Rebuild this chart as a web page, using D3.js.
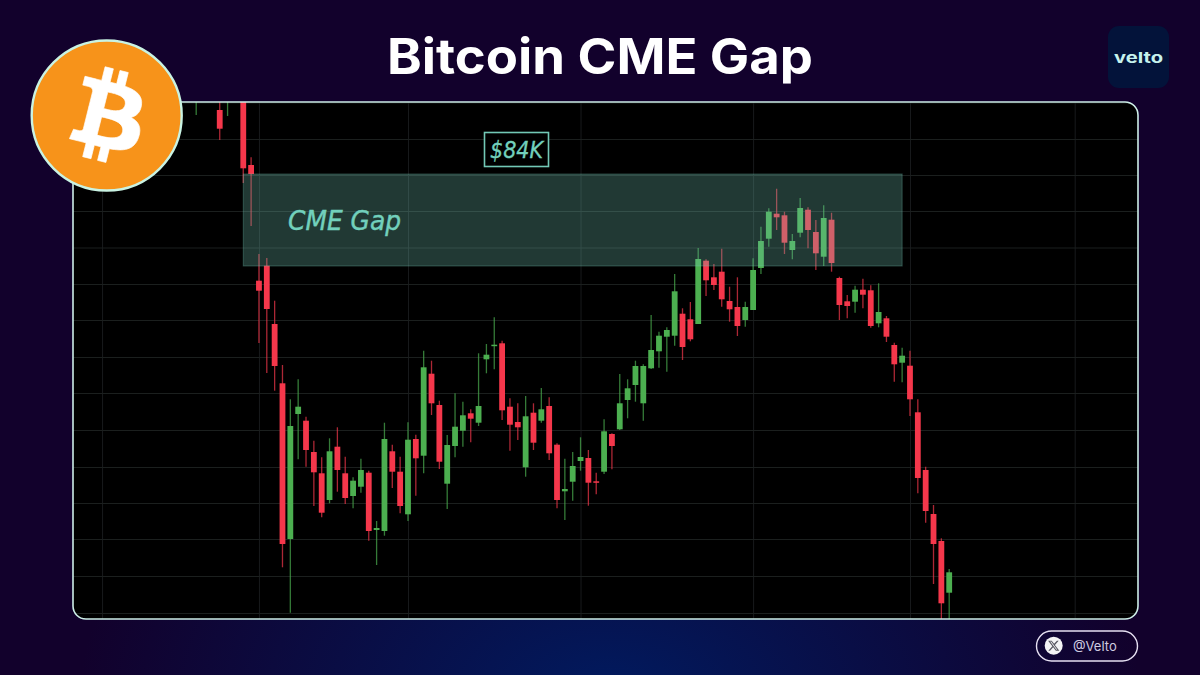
<!DOCTYPE html>
<html>
<head>
<meta charset="utf-8">
<script src="https://cdn.jsdelivr.net/npm/d3@7"></script>
<style>
  html, body { margin: 0; padding: 0; background: #12012c; }
  svg { display: block; }
</style>
</head>
<body>
<div id="chart-area"></div>
<script>
// bar numbers of the candles that show in the picture (1, 2 and 5 are above the frame)
const barIndex = [0, 3, 4, ...d3.range(6, 97)];

const open = [
    84900, 84650, 84900,
    85500, 84100, 82943, 83093,
    82510, 81917, 80360, 81610, 81543, 81230, 81017, 80750, 81283, 81017,
    80790, 80883, 81023, 80450, 80440, 81237, 81033, 80607, 81360, 81193,
    82013, 81700, 80913, 81290, 81443, 81617, 81523, 82157, 82295, 82317,
    81683, 81530, 81077, 81623, 81543, 81690, 81303, 80837, 80933, 81140,
    81170, 80937, 81033, 81410, 81457, 81750, 81900, 81717, 82067, 82237,
    82383, 82393, 82613, 82557, 82510, 83143, 82977, 83033, 82740, 82680,
    82550, 82650, 83070, 83363, 83613, 83597, 83250, 83423, 83653, 83430,
    83183, 83553, 82970, 82737, 82733, 82853, 82847, 82517, 82567, 82300,
    82123, 82093, 81627, 81050, 80610, 80340, 79823
];
const close = [
    85100, 84463, 85100,
    84067, 84010, 82843, 82660,
    82090, 80310, 81490, 81683, 81250, 81027, 80623, 81237, 81050, 80770,
    80943, 81050, 80440, 80470, 81360, 81033, 80690, 81353, 81167, 82077,
    81717, 81133, 81300, 81483, 81597, 81563, 81690, 82203, 82303, 81647,
    81503, 81477, 81587, 81323, 81657, 81217, 80750, 80860, 81090, 81180,
    80923, 80927, 81437, 81290, 81717, 81867, 82090, 82090, 82250, 82393,
    82450, 82837, 82280, 82357, 83160, 82947, 82900, 82757, 82657, 82490,
    82680, 83050, 83340, 83633, 83577, 83323, 83340, 83670, 83450, 83217,
    83570, 83120, 82700, 82690, 82853, 82803, 82490, 82630, 82383, 82107,
    82193, 81757, 80970, 80640, 80310, 79717, 80027
];
const high = [
    85300, 84770, 85200,
    85600, 84177, 83210, 83170,
    82743, 82100, 81757, 81957, 81583, 81343, 81177, 81367, 81477, 81183,
    80977, 81163, 81043, 80540, 81523, 81303, 81183, 81527, 81403, 82243,
    82143, 81743, 81400, 81817, 81733, 81657, 82217, 82310, 82577, 82343,
    81767, 81717, 81790, 81717, 81870, 81777, 81317, 81163, 81230, 81377,
    81250, 81023, 81557, 81417, 82010, 81957, 82143, 82107, 82600, 82433,
    82477, 83010, 82667, 82730, 83270, 83157, 83110, 83263, 82883, 82977,
    82733, 83167, 83483, 83667, 83863, 83633, 83410, 83770, 83677, 83550,
    83697, 83623, 82983, 82800, 82893, 82963, 82897, 82917, 82590, 82323,
    82273, 82243, 81757, 81083, 80700, 80367, 80060
];
const low = [
    84600, 84350, 84590,
    83920, 83490, 82320, 82020,
    81843, 80077, 79623, 81157, 81083, 80690, 80577, 80717, 80833, 80710,
    80667, 80823, 80343, 80100, 80393, 80870, 80617, 80540, 80793, 81017,
    81600, 81060, 80660, 81177, 81283, 81327, 81490, 82017, 82057, 81550,
    81243, 81350, 80983, 81250, 81523, 81150, 80667, 80550, 80743, 81043,
    80693, 80807, 81010, 81057, 81450, 81567, 81733, 81543, 82060, 82073,
    82033, 82293, 82150, 82337, 82510, 82790, 82850, 82683, 82533, 82390,
    82483, 82650, 83010, 83283, 83450, 83210, 83157, 83377, 83267, 83050,
    83090, 83033, 82550, 82567, 82623, 82667, 82473, 82477, 82330, 81933,
    81927, 81590, 80817, 80523, 79910, 79350, 79450
];

// faint grid of the trading platform: no labels on it in the picture
const gridPrices = [84725, 84360, 84000, 83640, 83275, 82910, 82550, 82180, 81820, 81450, 81080, 80720, 80360, 79990, 79620];
const gridBars = [-12, 8, 27, 49, 71, 91, 112];

// CME gap zone, in price and bars
const gapTop = 84010;
const gapBottom = 83090;
const gapFrom = 6;
const gapTo = 90;

const candles = barIndex.map((b, i) => ({bar: b, open: open[i], high: high[i], low: low[i], close: close[i]}));

const width = 1200;
const height = 675;
const panel = {left: 73, top: 102, right: 1138, bottom: 619};

const svg = d3.select("#chart-area")
    .append("svg")
    .attr("width", width)
    .attr("height", height);

const defs = svg.append("defs");

const glow = defs.append("radialGradient")
    .attr("id", "glow")
    .attr("gradientUnits", "userSpaceOnUse")
    .attr("cx", 0).attr("cy", 0).attr("r", 1)
    .attr("gradientTransform", "translate(610 690) scale(530 300)");
glow.append("stop").attr("offset", "0%").attr("stop-color", "#011a5e");
glow.append("stop").attr("offset", "100%").attr("stop-color", "#12012c");

defs.append("clipPath")
    .attr("id", "panel-clip")
    .append("rect")
    .attr("x", panel.left).attr("y", panel.top)
    .attr("width", panel.right - panel.left)
    .attr("height", panel.bottom - panel.top)
    .attr("rx", 13);

svg.append("rect")
    .attr("width", width)
    .attr("height", height)
    .attr("fill", "#12012c");

svg.append("rect")
    .attr("width", width)
    .attr("height", height)
    .attr("fill", "url(#glow)");

svg.append("text")
    .attr("x", 387)
    .attr("y", 74)
    .attr("textLength", 426)
    .attr("lengthAdjust", "spacingAndGlyphs")
    .attr("font-family", "Inter")
    .attr("font-weight", 700)
    .attr("font-size", "49px")
    .attr("fill", "white")
    .text("Bitcoin CME Gap");

// chart panel
svg.append("rect")
    .attr("x", panel.left).attr("y", panel.top)
    .attr("width", panel.right - panel.left)
    .attr("height", panel.bottom - panel.top)
    .attr("rx", 13)
    .attr("fill", "black");

const g = svg.append("g").attr("clip-path", "url(#panel-clip)");

const x = d3.scaleLinear()
    .domain([0, 96])
    .range([196.2, 949.2]);

const y = d3.scaleLinear()
    .domain([84000, 79000])
    .range([175, 675]);

const gridX = d3.axisBottom(x)
    .tickValues(gridBars)
    .tickSize(panel.bottom - panel.top)
    .tickFormat("");

const gridY = d3.axisLeft(y)
    .tickValues(gridPrices)
    .tickSize(-(panel.right - panel.left))
    .tickFormat("");

g.append("g")
    .attr("class", "grid x")
    .attr("transform", "translate(0," + panel.top + ")")
    .call(gridX);

g.append("g")
    .attr("class", "grid y")
    .attr("transform", "translate(" + panel.left + ",0)")
    .call(gridY);

g.selectAll(".grid .domain").remove();
g.selectAll(".grid.x line").attr("stroke", "#181a1c");
g.selectAll(".grid.y line").attr("stroke", "#1b1f1e");

const barWidth = 5.8;
const colour = d => d.close >= d.open ? "#4caf50" : "#f5374b";

const bars = g.selectAll(".candle")
    .data(candles)
    .enter()
    .append("g")
    .attr("class", "candle");

bars.append("line")
    .attr("x1", d => x(d.bar))
    .attr("x2", d => x(d.bar))
    .attr("y1", d => y(d.high))
    .attr("y2", d => y(d.low))
    .attr("stroke", colour)
    .attr("stroke-opacity", 0.7)
    .attr("stroke-width", 1.3);

bars.append("rect")
    .attr("x", d => x(d.bar) - barWidth / 2)
    .attr("y", d => y(Math.max(d.open, d.close)))
    .attr("width", barWidth)
    .attr("height", d => Math.max(Math.abs(y(d.open) - y(d.close)), 1.5))
    .attr("fill", colour);

// gap zone goes over the candles
g.append("rect")
    .attr("x", x(gapFrom))
    .attr("y", y(gapTop))
    .attr("width", x(gapTo) - x(gapFrom))
    .attr("height", y(gapBottom) - y(gapTop))
    .attr("fill", "#70c5b4")
    .attr("fill-opacity", 0.29)
    .attr("stroke", "#78cebe")
    .attr("stroke-opacity", 0.3)
    .attr("stroke-width", 1);

svg.append("text")
    .attr("x", 288)
    .attr("y", 230)
    .attr("textLength", 113)
    .attr("lengthAdjust", "spacingAndGlyphs")
    .attr("font-family", "DejaVu Sans Condensed, DejaVu Sans")
    .attr("font-style", "italic")
    .attr("font-stretch", "condensed")
    .attr("font-size", "27px")
    .attr("fill", "#72d0bc")
    .attr("stroke", "#72d0bc")
    .attr("stroke-width", 0.4)
    .text("CME Gap");

svg.append("rect")
    .attr("x", 484.5).attr("y", 132.5)
    .attr("width", 64).attr("height", 34)
    .attr("fill", "black")
    .attr("stroke", "#72c8b6")
    .attr("stroke-width", 1.6);

svg.append("text")
    .attr("x", 516.5)
    .attr("y", 158)
    .attr("text-anchor", "middle")
    .attr("font-family", "DejaVu Sans Condensed, DejaVu Sans")
    .attr("font-style", "italic")
    .attr("font-stretch", "condensed")
    .attr("font-size", "23px")
    .attr("fill", "#72d0bc")
    .attr("stroke", "#72d0bc")
    .attr("stroke-width", 0.3)
    .text("$84K");

svg.append("rect")
    .attr("x", panel.left).attr("y", panel.top)
    .attr("width", panel.right - panel.left)
    .attr("height", panel.bottom - panel.top)
    .attr("rx", 13)
    .attr("fill", "none")
    .attr("stroke", "#cdeee8")
    .attr("stroke-width", 1.6);

// bitcoin badge
const coin = svg.append("g").attr("transform", "translate(106.7,115.5)");

coin.append("circle")
    .attr("r", 75)
    .attr("fill", "#f7931a")
    .attr("stroke", "#c9f3e3")
    .attr("stroke-width", 2.4);

coin.append("path")
    .attr("transform", "translate(1.5,0.5) scale(2.36) translate(-32,-32)")
    .attr("fill", "white")
    .attr("stroke", "white")
    .attr("stroke-width", 0.3)
    .attr("d", "M46.11 27.441c.636-4.258-2.606-6.547-7.039-8.074l1.438-5.768-3.512-.875-1.4 5.616c-.922-.23-1.87-.447-2.812-.662l1.41-5.653-3.509-.875-1.439 5.766c-.764-.174-1.514-.346-2.242-.527l.004-.018-4.842-1.209-.934 3.75s2.605.597 2.55.634c1.422.355 1.68 1.296 1.636 2.042l-1.638 6.571c.098.025.225.061.365.117l-.37-.092-2.297 9.205c-.174.432-.615 1.08-1.609.834.035.051-2.552-.637-2.552-.637l-1.743 4.02 4.57 1.139c.85.213 1.683.436 2.502.646l-1.453 5.835 3.507.875 1.44-5.772c.957.26 1.887.5 2.797.726L27.504 50.8l3.511.875 1.453-5.823c5.987 1.133 10.49.676 12.383-4.738 1.527-4.36-.075-6.875-3.225-8.516 2.294-.531 4.022-2.04 4.483-5.157zM38.087 38.69c-1.086 4.36-8.426 2.004-10.807 1.412l1.928-7.729c2.38.594 10.011 1.77 8.88 6.317zm1.085-11.312c-.99 3.966-7.1 1.951-9.083 1.457l1.748-7.01c1.983.494 8.367 1.416 7.335 5.553z");

// velto logo
svg.append("rect")
    .attr("x", 1108).attr("y", 26)
    .attr("width", 61).attr("height", 62)
    .attr("rx", 11)
    .attr("fill", "#03133a");

svg.append("text")
    .attr("x", 1114)
    .attr("y", 63)
    .attr("textLength", 49)
    .attr("lengthAdjust", "spacingAndGlyphs")
    .attr("font-family", "Inter")
    .attr("font-weight", 700)
    .attr("font-size", "15px")
    .attr("fill", "#c6f3ee")
    .text("velto");

// handle pill
svg.append("rect")
    .attr("x", 1036.5).attr("y", 631)
    .attr("width", 101).attr("height", 30)
    .attr("rx", 15)
    .attr("fill", "none")
    .attr("stroke", "#e6e0f2")
    .attr("stroke-width", 1.4);

svg.append("circle")
    .attr("cx", 1053.7)
    .attr("cy", 645.7)
    .attr("r", 9)
    .attr("fill", "#f4f4f6");

svg.append("path")
    .attr("transform", "translate(1053.7,645.7) scale(0.52) translate(-12,-12)")
    .attr("fill", "#55555f")
    .attr("d", "M18.244 2.25h3.308l-7.227 8.26 8.502 11.24H16.17l-5.214-6.817L4.99 21.75H1.68l7.73-8.835L1.254 2.25H8.08l4.713 6.231zm-1.161 17.52h1.833L7.084 4.126H5.117z");

svg.append("text")
    .attr("x", 1073)
    .attr("y", 650.5)
    .attr("font-family", "Inter")
    .attr("font-size", "13px")
    .attr("fill", "#cfcbe0")
    .text("@Velto");
</script>
</body>
</html>
